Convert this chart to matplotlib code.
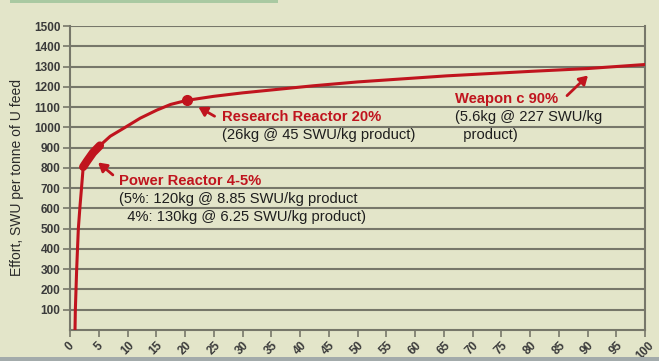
import matplotlib
matplotlib.use("Agg")
import matplotlib.pyplot as plt
from matplotlib.patches import Rectangle

# Data
enrich = [0.87, 0.93, 1.16, 1.45, 1.75, 2.0, 2.3, 3.0, 4.0, 5.2, 7.0, 9.6, 12.2, 15.1, 17.5,
          20.3, 25, 30, 42.3, 50, 65.5, 80, 90, 100]
effort = [0, 100, 300, 500, 615, 700, 805, 835, 875, 910, 956, 1000, 1045, 1085, 1113,
          1133, 1153, 1170, 1205, 1224, 1254, 1276, 1290, 1310]
power_x = [2.3, 3.0, 4.0, 5.2]
power_y = [805, 835, 875, 910]
research_x = [20.3]
research_y = [1133]
x_ticks = list(range(0, 101, 5))
y_ticks = list(range(100, 1501, 100))

RED = "#c0141e"
BG = "#e3e5c9"
GRID = "#77776a"

fig = plt.figure(figsize=(6.59, 3.61), dpi=100)
fig.patch.set_facecolor(BG)
ax = fig.add_axes([70/659, 31/361, 575/659, 304/361])
ax.set_facecolor(BG)

# decorative top bar and bottom band
fig.patches.append(Rectangle((10/659, 1-3/361), 268/659, 3/361, transform=fig.transFigure,
                             facecolor="#a9c9a2", edgecolor="none"))
fig.patches.append(Rectangle((0, 0), 1, 4/361, transform=fig.transFigure,
                             facecolor="#a3abab", edgecolor="none"))

ax.set_xlim(0, 100)
ax.set_ylim(0, 1500)
for v in y_ticks:
    ax.axhline(v, color=GRID, lw=1.5, zorder=1)

ax.plot(enrich, effort, color=RED, lw=2.2, zorder=3, solid_capstyle="round",
        solid_joinstyle="round")
ax.plot(power_x, power_y, color=RED, lw=6, zorder=4, solid_capstyle="round")
ax.plot(research_x, research_y, "o", color=RED, ms=7, zorder=5)

ax.set_xticks(x_ticks)
ax.set_xticklabels([str(v) for v in x_ticks], rotation=45, fontsize=8.5,
                   fontweight="bold", color="#3a3a3a", family="Liberation Sans")
ax.set_yticks(y_ticks)
ax.set_yticklabels([str(v) for v in y_ticks], fontsize=8.5, fontweight="bold",
                   color="#3a3a3a", family="Liberation Sans")
ax.tick_params(axis="both", colors=GRID, length=5, width=1.2, labelcolor="#3a3a3a", pad=2)
for lab in ax.get_xticklabels():
    lab.set_ha("center")
    lab.set_va("top")

for s in ["left", "bottom", "right"]:
    ax.spines[s].set_color(GRID)
    ax.spines[s].set_linewidth(1.5)
ax.spines["top"].set_visible(False)

ax.set_ylabel("Effort, SWU per tonne of U feed", fontsize=10, family="Liberation Sans",
              color="#2a2a2a", labelpad=7)

def px(xp, yp):
    return ((xp - 70) / 5.75, (330 - yp) / 0.2023)

tk = dict(family="Liberation Sans", va="center", ha="left")
ax.text(*px(222, 117), "Research Reactor 20%", color=RED, fontsize=10.6, fontweight="bold", **tk)
ax.text(*px(222, 135), "(26kg @ 45 SWU/kg product)", color="#1e1e1e", fontsize=10.6, **tk)
ax.text(*px(455, 99), "Weapon c 90%", color=RED, fontsize=10.6, fontweight="bold", **tk)
ax.text(*px(455, 117), "(5.6kg @ 227 SWU/kg", color="#1e1e1e", fontsize=10.6, **tk)
ax.text(*px(455, 135), "  product)", color="#1e1e1e", fontsize=10.6, **tk)
ax.text(*px(119, 181), "Power Reactor 4-5%", color=RED, fontsize=10.6, fontweight="bold", **tk)
ax.text(*px(119, 199), "(5%: 120kg @ 8.85 SWU/kg product", color="#1e1e1e", fontsize=10.6, **tk)
ax.text(*px(119, 217), "  4%: 130kg @ 6.25 SWU/kg product)", color="#1e1e1e", fontsize=10.6, **tk)

arrow = dict(arrowstyle="-|>,head_length=0.5,head_width=0.3", color=RED, lw=2)
ax.annotate("", xy=px(196, 106), xytext=px(217, 118), arrowprops=arrow)
ax.annotate("", xy=px(96, 161), xytext=px(115, 177), arrowprops=arrow)
ax.annotate("", xy=px(590, 74), xytext=px(565, 98), arrowprops=arrow)

fig.savefig("out.png", dpi=100, facecolor=BG)
